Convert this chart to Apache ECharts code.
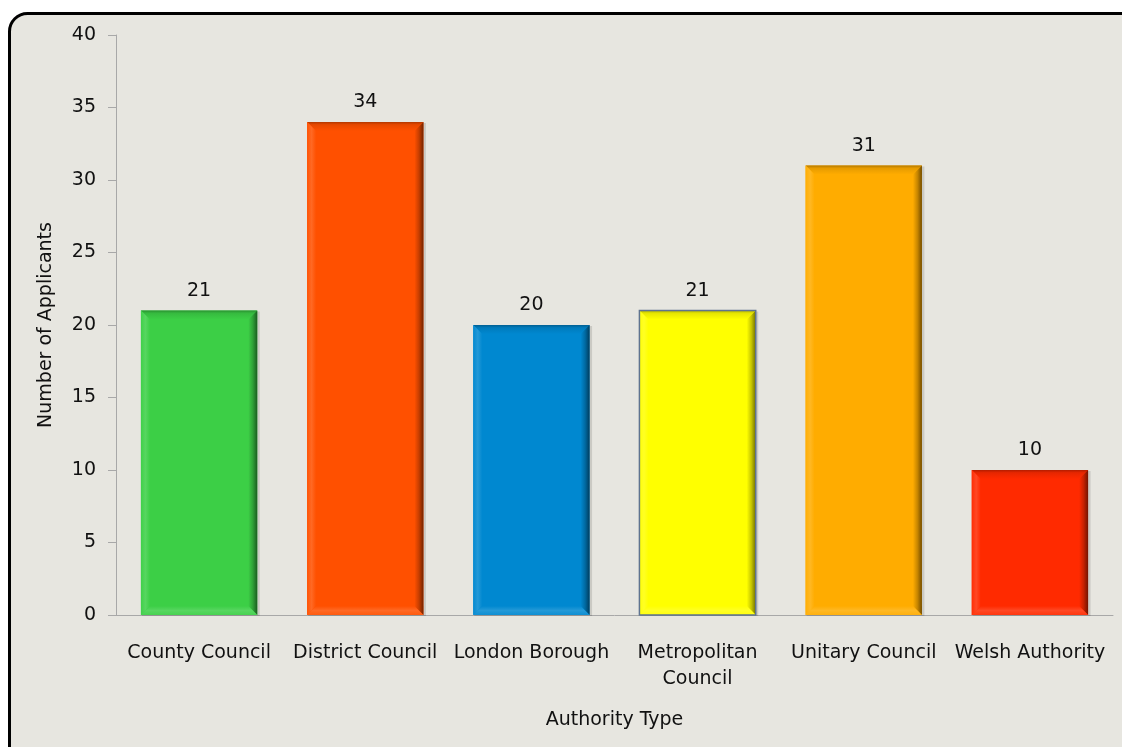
<!DOCTYPE html>
<html>
<head>
<meta charset="utf-8">
<script src="https://cdn.jsdelivr.net/npm/echarts@6/dist/echarts.min.js"></script>
<style>
  html, body { margin: 0; padding: 0; background: #ffffff; }
  #chart { width: 1122px; height: 747px; }
</style>
</head>
<body>
<div id="chart"></div>
<script>
// Applicants by authority type
const categories = ['County Council', 'District Council', 'London Borough', 'Metropolitan\nCouncil', 'Unitary Council', 'Welsh Authority'];
const applicants = [21, 34, 20, 21, 31, 10];
const barColors = ['#3ccf46', '#ff5000', '#0088d0', '#ffff00', '#ffac00', '#ff2a00'];
const yTicks = [0, 5, 10, 15, 20, 25, 30, 35, 40];

const FONT = '"DejaVu Sans", sans-serif';
const FS = 19;

function shade(hex, amt) {
  // amt > 0 lightens toward white, amt < 0 darkens toward black
  const n = parseInt(hex.slice(1), 16);
  let r = (n >> 16) & 255, g = (n >> 8) & 255, b = n & 255;
  const t = amt < 0 ? 0 : 255, p = Math.abs(amt);
  r = Math.round((t - r) * p + r);
  g = Math.round((t - g) * p + g);
  b = Math.round((t - b) * p + b);
  return 'rgb(' + r + ',' + g + ',' + b + ')';
}

const chart = echarts.init(document.getElementById('chart'));

function renderBevelBar(params, api) {
  const idx = api.value(0);
  const val = api.value(1);
  const top = api.coord([idx, val]);
  const base = api.coord([idx, 0]);
  const bw = api.size([1, 0])[0] * 0.7;
  const x0 = top[0] - bw / 2, x1 = top[0] + bw / 2;
  const y0 = top[1], y1 = base[1];
  const b = 9;
  const c = barColors[idx];
  const isYellow = idx === 3;
  const children = [
    // soft drop shadow
    { type: 'rect', shape: { x: x0 + 1, y: y0 + 1, width: bw + 1.5, height: y1 - y0 },
      style: { fill: 'rgba(0,0,0,0.12)' }, z2: 0 },
    { type: 'rect', shape: { x: x0, y: y0, width: bw, height: y1 - y0 },
      style: { fill: c }, z2: 1 },
    // top bevel
    { type: 'polygon', shape: { points: [[x0, y0], [x1, y0], [x1 - b, y0 + b], [x0 + b, y0 + b]] },
      style: { fill: new echarts.graphic.LinearGradient(0, 0, 0, 1, [
        { offset: 0, color: shade(c, -0.3) }, { offset: 0.3, color: shade(c, -0.1) }, { offset: 1, color: c }]) }, z2: 2 },
    // left bevel
    { type: 'polygon', shape: { points: [[x0, y0], [x0 + b, y0 + b], [x0 + b, y1 - b], [x0, y1]] },
      style: { fill: new echarts.graphic.LinearGradient(0, 0, 1, 0, [
        { offset: 0, color: shade(c, 0.02) }, { offset: 0.5, color: shade(c, 0.14) }, { offset: 1, color: c }]) }, z2: 2 },
    // right bevel
    { type: 'polygon', shape: { points: [[x1, y0], [x1, y1], [x1 - b, y1 - b], [x1 - b, y0 + b]] },
      style: { fill: new echarts.graphic.LinearGradient(0, 0, 1, 0, [
        { offset: 0, color: c }, { offset: 0.5, color: shade(c, -0.22) }, { offset: 1, color: shade(c, -0.55) }]) }, z2: 2 },
    // bottom bevel
    { type: 'polygon', shape: { points: [[x0, y1], [x0 + b, y1 - b], [x1 - b, y1 - b], [x1, y1]] },
      style: { fill: new echarts.graphic.LinearGradient(0, 0, 0, 1, [
        { offset: 0, color: c }, { offset: 0.5, color: shade(c, 0.14) }, { offset: 1, color: shade(c, 0.06) }]) }, z2: 2 },
    // value label
    { type: 'text', x: top[0], y: y0 - 10, z2: 3,
      style: { text: String(val), align: 'center', verticalAlign: 'bottom',
        font: FS + 'px ' + FONT, fill: '#111' } }
  ];
  if (isYellow) {
    children.push({ type: 'rect', shape: { x: x0, y: y0, width: bw, height: y1 - y0 },
      style: { fill: 'none', stroke: '#5f7490', lineWidth: 1.5 }, z2: 4 });
  }
  return { type: 'group', children: children };
}

chart.setOption({
  backgroundColor: '#ffffff',
  animation: false,
  graphic: [{
    type: 'rect', left: 8, top: 12, z: -10,
    shape: { width: 1130, height: 760, r: 18 },
    style: { fill: '#e7e6e0', stroke: '#000', lineWidth: 3 }
  }],
  grid: { left: 116, right: 9, top: 35, bottom: 132, containLabel: false },
  xAxis: {
    type: 'category',
    data: categories,
    name: 'Authority Type',
    nameLocation: 'middle',
    nameGap: 96,
    nameTextStyle: { fontFamily: FONT, fontSize: FS, color: '#111' },
    axisLine: { lineStyle: { color: '#a8a8a8', width: 1 } },
    axisTick: { show: false },
    axisLabel: { interval: 0, margin: 25, fontFamily: FONT, fontSize: FS, color: '#111', lineHeight: 26 }
  },
  yAxis: {
    type: 'value',
    min: yTicks[0], max: yTicks[yTicks.length - 1], interval: 5,
    name: 'Number of Applicants',
    nameLocation: 'middle',
    nameGap: 60,
    nameTextStyle: { fontFamily: FONT, fontSize: FS, color: '#111' },
    axisLine: { show: true, lineStyle: { color: '#a8a8a8', width: 1 } },
    axisTick: { show: true, length: 8, lineStyle: { color: '#a8a8a8' } },
    axisLabel: { margin: 20, fontFamily: FONT, fontSize: FS, color: '#111' },
    splitLine: { show: false }
  },
  series: [{
    type: 'custom',
    renderItem: renderBevelBar,
    encode: { x: 0, y: 1 },
    data: applicants.map((v, i) => [i, v]),
    clip: false
  }]
});
</script>
</body>
</html>
